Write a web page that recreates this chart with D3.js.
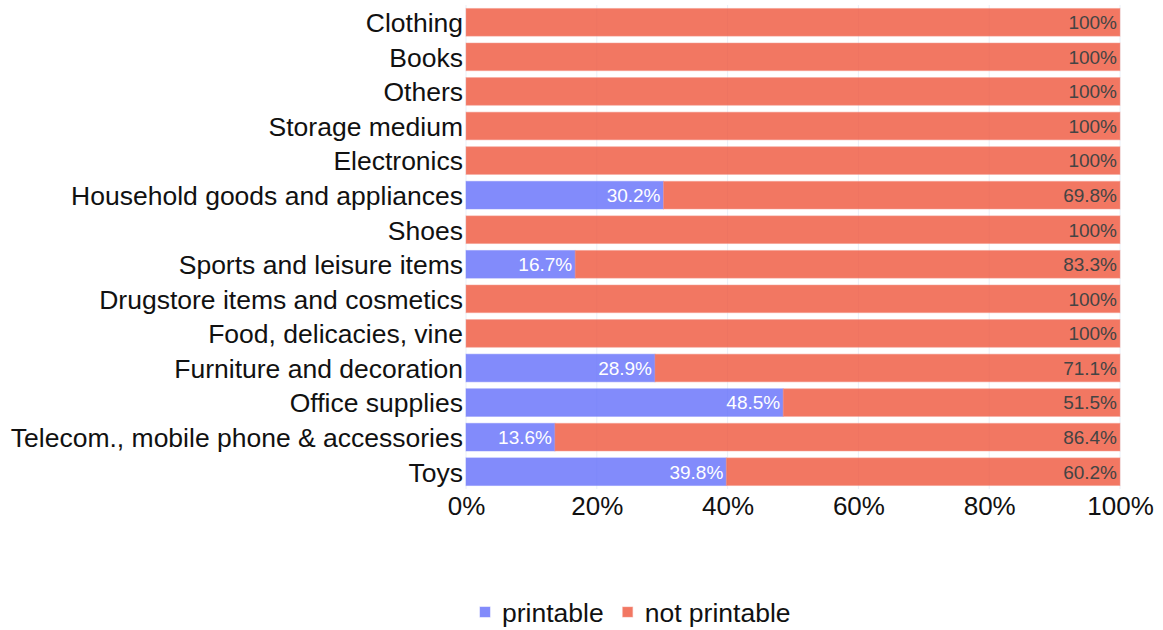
<!DOCTYPE html>
<html>
<head>
<meta charset="utf-8">
<script src="https://cdn.jsdelivr.net/npm/d3@7"></script>
<style>
  html, body { margin: 0; padding: 0; background: #fff; }
  svg { display: block; font-family: "Liberation Sans", Arial, sans-serif; }
</style>
</head>
<body>
<svg id="chart" width="1163" height="630"></svg>
<script>
// Product categories, top to bottom
const categories = [
  "Clothing", "Books", "Others", "Storage medium", "Electronics",
  "Household goods and appliances", "Shoes", "Sports and leisure items",
  "Drugstore items and cosmetics", "Food, delicacies, vine",
  "Furniture and decoration", "Office supplies",
  "Telecom., mobile phone & accessories", "Toys"
];
// Share of items (%) per category
const printable    = [0, 0, 0, 0, 0, 30.2, 0, 16.7, 0, 0, 28.9, 48.5, 13.6, 39.8];
const notPrintable = [100, 100, 100, 100, 100, 69.8, 100, 83.3, 100, 100, 71.1, 51.5, 86.4, 60.2];
const seriesNames = ["printable", "not printable"];
const xTicks = [0, 20, 40, 60, 80, 100];

const svg = d3.select("#chart");
const margin = { left: 466, right: 43, top: 5, bottom: 141 };
const W = 1163, H = 630;

const x = d3.scaleLinear().domain([0, 100]).range([margin.left, W - margin.right]);
const y = d3.scaleBand().domain(categories).range([margin.top, H - margin.bottom]).paddingInner(0.2).paddingOuter(0.1);

// vertical gridlines
svg.append("g").selectAll("line").data(xTicks).join("line")
  .attr("x1", d => x(d)).attr("x2", d => x(d))
  .attr("y1", margin.top).attr("y2", H - margin.bottom)
  .attr("stroke", "#ebf0f8").attr("stroke-width", 1);

const series = [
  { name: seriesNames[0], values: printable, fill: "#636efa", line: "#8890fb", text: "#ffffff" },
  { name: seriesNames[1], values: notPrintable, fill: "#ef553b", line: "#f59a8b", text: "#444444" }
];

// stacked bars with inside-end value labels
series.forEach((s, si) => {
  const g = svg.append("g");
  categories.forEach((c, i) => {
    const start = si === 0 ? 0 : printable[i];
    const v = s.values[i];
    if (v <= 0) return;
    g.append("rect")
      .attr("x", x(start)).attr("y", y(c))
      .attr("width", x(start + v) - x(start)).attr("height", y.bandwidth())
      .attr("fill", s.fill).attr("fill-opacity", 0.8)
      .attr("stroke", s.line).attr("stroke-opacity", 0.5).attr("stroke-width", 1);
    g.append("text")
      .attr("x", x(start + v) - 3).attr("y", y(c) + y.bandwidth() / 2)
      .attr("dy", "0.36em").attr("text-anchor", "end")
      .attr("font-size", 19).attr("fill", s.text)
      .text((v === 100 ? "100" : d3.format(".1f")(v)) + "%");
  });
});

// category axis
const yAxis = svg.append("g").attr("transform", `translate(${margin.left},0)`)
  .call(d3.axisLeft(y).tickSize(0).tickPadding(3));
yAxis.select(".domain").remove();
yAxis.selectAll("text").attr("font-size", 26.5).attr("fill", "#111").attr("font-family", null).attr("dy", "0.37em");

// value axis
const xAxis = svg.append("g").attr("transform", `translate(0,${H - margin.bottom})`)
  .call(d3.axisBottom(x).tickValues(xTicks).tickFormat(d => d + "%").tickSize(0).tickPadding(8));
xAxis.select(".domain").remove();
xAxis.selectAll("text").attr("font-size", 26).attr("fill", "#111").attr("font-family", null);

// legend
const legend = svg.append("g").attr("transform", "translate(480,612)");
let lx = 0;
series.forEach(s => {
  const item = legend.append("g").attr("transform", `translate(${lx},0)`);
  item.append("rect").attr("x", 0).attr("y", -5).attr("width", 10).attr("height", 10)
    .attr("fill", s.fill).attr("fill-opacity", 0.8).attr("stroke", s.line).attr("stroke-opacity", 0.5);
  const t = item.append("text").attr("x", 22).attr("dy", "0.36em")
    .attr("font-size", 26.5).attr("fill", "#111").text(s.name);
  lx += 22 + t.node().getComputedTextLength() + 19;
});
</script>
</body>
</html>
